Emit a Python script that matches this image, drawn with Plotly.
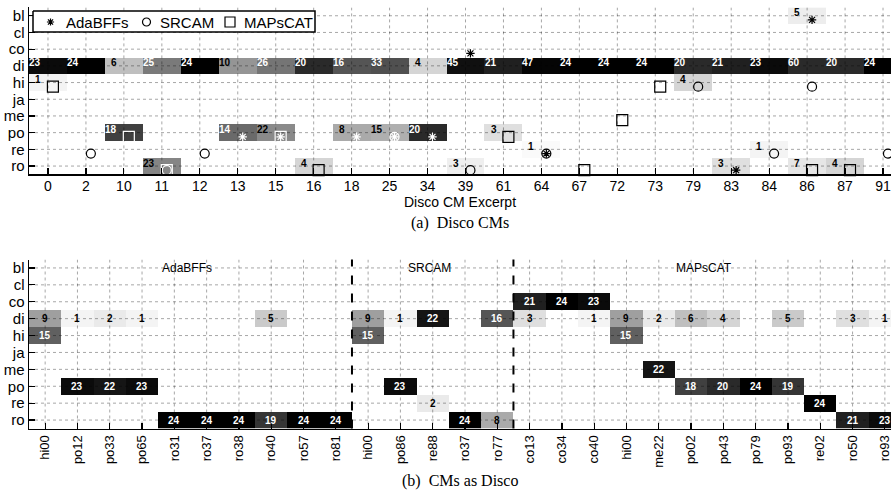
import plotly.graph_objects as go

rows = ['bl', 'cl', 'co', 'di', 'hi', 'ja', 'me', 'po', 're', 'ro']

# ---------------- (a) Disco CMs ----------------
excerpts = ['0', '2', '10', '11', '12', '13', '15', '16', '18', '25', '34', '39',
            '61', '64', '67', '72', '73', '79', '83', '84', '86', '87', '91']
disco_di_counts = [23, 24, 6, 25, 24, 10, 26, 20, 16, 33, 4, 45,
                   21, 47, 24, 24, 24, 20, 21, 23, 60, 20, 24]
other_rows = ['hi', 'po', 'ro', 'po', 'po', 'ro', 'po', 'po', 'po', 'ro', 'po', 're',
              'hi', 'ro', 're', 'bl', 'ro', 'ro']
other_excerpts = ['0', '10', '11', '13', '15', '16', '18', '25', '34', '39', '61', '64',
                  '79', '83', '84', '86', '86', '87']
other_counts = [1, 18, 23, 14, 22, 4, 8, 15, 20, 3, 3, 1, 4, 3, 1, 5, 7, 4]

ada_excerpts = ['13', '15', '18', '25', '34', '39', '64', '83', '86']
ada_rows = ['po', 'po', 'po', 'po', 'po', 'co', 're', 'ro', 'bl']
srcam_excerpts = ['2', '11', '12', '25', '39', '64', '79', '84', '86', '91']
srcam_rows = ['re', 'ro', 're', 'po', 'ro', 're', 'hi', 're', 'hi', 're']
maps_excerpts = ['0', '10', '11', '15', '16', '61', '67', '72', '73', '86', '87']
maps_rows = ['hi', 'po', 'ro', 'po', 'ro', 'po', 'ro', 'me', 'hi', 'ro', 'ro']

# ---------------- (b) CMs as Disco ----------------
groups = ['AdaBFFs', 'SRCAM', 'MAPsCAT']
group_sizes = [10, 5, 12]
cms = ['hi00', 'po12', 'po33', 'po65', 'ro31', 'ro37', 'ro38', 'ro40', 'ro57', 'ro81',
       'hi00', 'po86', 're88', 'ro37', 'ro77',
       'co13', 'co34', 'co40', 'hi00', 'me22', 'po02', 'po43', 'po79', 'po93', 're02', 'ro50', 'ro93']
cell_rows = (['di'] * 18 + ['hi'] * 3 + ['co'] * 3 + ['me'] + ['po'] * 8 + ['re'] * 2 + ['ro'] * 10)
cell_cols = ([0, 1, 2, 3, 7, 10, 11, 12, 14, 15, 17, 18, 19, 20, 21, 23, 25, 26]
             + [0, 10, 18] + [15, 16, 17] + [19]
             + [1, 2, 3, 11, 20, 21, 22, 23] + [12, 24]
             + [4, 5, 6, 7, 8, 9, 13, 14, 25, 26])
cell_counts = ([9, 1, 2, 1, 5, 9, 1, 22, 16, 3, 1, 9, 2, 6, 4, 5, 3, 1]
               + [15, 15, 15] + [21, 24, 23] + [22]
               + [23, 22, 23, 23, 18, 20, 24, 19] + [2, 24]
               + [24, 24, 24, 19, 24, 24, 24, 8, 21, 23])

FONT = 'Liberation Sans'
GRID = 'rgba(0,0,0,0.35)'
W, H, ML = 891, 497, 29

fig = go.Figure()

# ---- build grid (a)
na = len(excerpts)
cnt_a = [[0] * na for _ in rows]
for j, c in enumerate(disco_di_counts):
    cnt_a[rows.index('di')][j] = c
for r, e, c in zip(other_rows, other_excerpts, other_counts):
    cnt_a[rows.index(r)][excerpts.index(e)] = c
tot_a = [sum(cnt_a[i][j] for i in range(len(rows))) for j in range(na)]
z_a = [[(cnt_a[i][j] / tot_a[j]) if cnt_a[i][j] else None for j in range(na)] for i in range(len(rows))]

# ---- build grid (b)
nb = len(cms)
cnt_b = [[0] * nb for _ in rows]
for r, j, c in zip(cell_rows, cell_cols, cell_counts):
    cnt_b[rows.index(r)][j] = c
tot_b = [sum(cnt_b[i][j] for i in range(len(rows))) for j in range(nb)]
z_b = [[(cnt_b[i][j] / tot_b[j]) if cnt_b[i][j] else None for j in range(nb)] for i in range(len(rows))]

for z, n, xa, ya in ((z_a, na, 'x', 'y'), (z_b, nb, 'x2', 'y2')):
    fig.add_trace(go.Heatmap(z=z, x=list(range(n)), y=list(range(len(rows))),
                             zmin=0, zmax=1, colorscale=[[0, 'white'], [1, 'black']],
                             showscale=False, hoverinfo='skip', xaxis=xa, yaxis=ya))
    # dotted grid drawn on top of the cells
    gx, gy = [], []
    for j in range(n):
        gx += [j, j, None]
        gy += [-0.5, len(rows) - 0.5, None]
    for i in range(len(rows)):
        gx += [-0.5, n - 0.5, None]
        gy += [i, i, None]
    fig.add_trace(go.Scatter(x=gx, y=gy, mode='lines', showlegend=False, hoverinfo='skip',
                             line=dict(color=GRID, width=1, dash='dot'), xaxis=xa, yaxis=ya))

# ---- markers (a)
MX, MY = 0.13, 0.25
def frac_a(r, e):
    v = z_a[rows.index(r)][excerpts.index(e)]
    return v if v is not None else 0

methods = [('AdaBFFs', ada_excerpts, ada_rows, 'asterisk-open', 7),
           ('SRCAM', srcam_excerpts, srcam_rows, 'circle-open', 9),
           ('MAPsCAT', maps_excerpts, maps_rows, 'square-open', 11)]
for name, ex, rw, sym, sz in methods:
    cols = ['white' if frac_a(r, e) > 0.25 else 'black' for e, r in zip(ex, rw)]
    fig.add_trace(go.Scatter(
        x=[excerpts.index(e) + MX for e in ex], y=[rows.index(r) + MY for r in rw],
        mode='markers', name=name, showlegend=False, hoverinfo='skip', cliponaxis=False,
        marker=dict(symbol=sym, size=sz, color=cols, line=dict(color=cols, width=1.2)),
        xaxis='x', yaxis='y'))

annotations = []
# ---- legend box (pixel-space overlay axes)
LB = dict(x0=33, x1=315, y0=11, y1=32)
fig.add_trace(go.Scatter(x=[LB['x0'], LB['x1'], LB['x1'], LB['x0'], LB['x0']],
                         y=[LB['y0'], LB['y0'], LB['y1'], LB['y1'], LB['y0']],
                         mode='lines', fill='toself', fillcolor='white',
                         line=dict(color='black', width=1.5), showlegend=False, hoverinfo='skip',
                         xaxis='x3', yaxis='y3'))
leg_sym_x = [50.5, 146.5, 230]
leg_txt_x = [64, 158, 242]
for (name, ex, rw, sym, sz), sx, tx in zip(methods, leg_sym_x, leg_txt_x):
    fig.add_trace(go.Scatter(x=[sx], y=[22], mode='markers', showlegend=False, hoverinfo='skip',
                             marker=dict(symbol=sym, size=sz - 1 if sz > 7 else 6, color='black',
                                         line=dict(color='black', width=1.2)),
                             xaxis='x3', yaxis='y3'))
    annotations.append(dict(x=tx, y=22, xref='x3', yref='y3', text=name, showarrow=False,
                            xanchor='left', yanchor='middle',
                            font=dict(family=FONT, size=15, color='black')))

# ---- cell labels (a)
for i in range(len(rows)):
    for j in range(na):
        c = cnt_a[i][j]
        if c:
            annotations.append(dict(
                x=j - 0.13, y=i - 0.18, xref='x', yref='y', text='<b>%d</b>' % c,
                showarrow=False, xanchor='right', yanchor='middle',
                font=dict(family=FONT, size=10,
                          color='white' if z_a[i][j] > 0.5 else 'black')))
# ---- cell labels (b)
for i in range(len(rows)):
    for j in range(nb):
        c = cnt_b[i][j]
        if c:
            annotations.append(dict(
                x=j, y=i, xref='x2', yref='y2', text='<b>%d</b>' % c,
                showarrow=False, xanchor='center', yanchor='middle',
                font=dict(family=FONT, size=10,
                          color='white' if z_b[i][j] > 0.5 else 'black')))

# ---- group labels and separators (b)
shapes = []
start = 0
for g, n in zip(groups, group_sizes):
    annotations.append(dict(x=start + (n - 1) / 2 - 0.1, y=0, xref='x2', yref='y2', text=g,
                            showarrow=False, font=dict(family=FONT, size=12, color='black')))
    if start > 0:
        shapes.append(dict(type='line', xref='x2', yref='y2 domain', x0=start - 0.5, x1=start - 0.5,
                           y0=0, y1=1, line=dict(color='black', width=2, dash='dash'), layer='above'))
    start += n

# ---- titles / captions
annotations.append(dict(x=460, y=201.5, xref='x3', yref='y3', text='Disco CM Excerpt',
                        showarrow=False, font=dict(family=FONT, size=14, color='black')))
annotations.append(dict(x=460, y=223, xref='x3', yref='y3', text='(a)  Disco CMs',
                        showarrow=False, font=dict(family='Liberation Serif', size=16, color='black')))
annotations.append(dict(x=460, y=481, xref='x3', yref='y3', text='(b)  CMs as Disco',
                        showarrow=False, font=dict(family='Liberation Serif', size=16, color='black')))

axcommon = dict(showgrid=False, zeroline=False, showline=True, linecolor='black', linewidth=1.5,
                ticks='inside', ticklen=6, tickcolor='black', tickwidth=1.2, mirror=False,
                automargin=False, ticklabeloverflow='allow')

fig.update_layout(
    width=W, height=H, margin=dict(l=ML, r=0, t=0, b=0),
    paper_bgcolor='white', plot_bgcolor='rgba(0,0,0,0)',
    font=dict(family=FONT, color='black'), showlegend=False,
    xaxis=dict(axcommon, domain=[0, 1], range=[-0.5, 22.21], tickvals=list(range(na)),
               ticktext=excerpts, tickfont=dict(size=14), ticklabelstandoff=-2, anchor='y'),
    yaxis=dict(axcommon, domain=[1 - 174.4 / H, 1 - 7.4 / H], range=[9.5, -0.5],
               tickvals=list(range(len(rows))), ticktext=rows, tickfont=dict(size=15), anchor='x'),
    xaxis2=dict(axcommon, domain=[0, 1], range=[-0.5, 26.19], tickvals=list(range(nb)),
                ticktext=cms, tickangle=-90, tickfont=dict(size=13), anchor='y2'),
    yaxis2=dict(axcommon, domain=[1 - 428.5 / H, 1 - 259.5 / H], range=[9.5, -0.5],
                tickvals=list(range(len(rows))), ticktext=rows, tickfont=dict(size=15), anchor='x2'),
    xaxis3=dict(domain=[0, 1], range=[ML, W], visible=False, anchor='y3', fixedrange=True),
    yaxis3=dict(domain=[0, 1], range=[H, 0], visible=False, anchor='x3', fixedrange=True),
    annotations=annotations, shapes=shapes,
)

fig.write_html('out.html', post_script="document.body.style.margin='0';",
               config={'displayModeBar': False, 'staticPlot': True})
